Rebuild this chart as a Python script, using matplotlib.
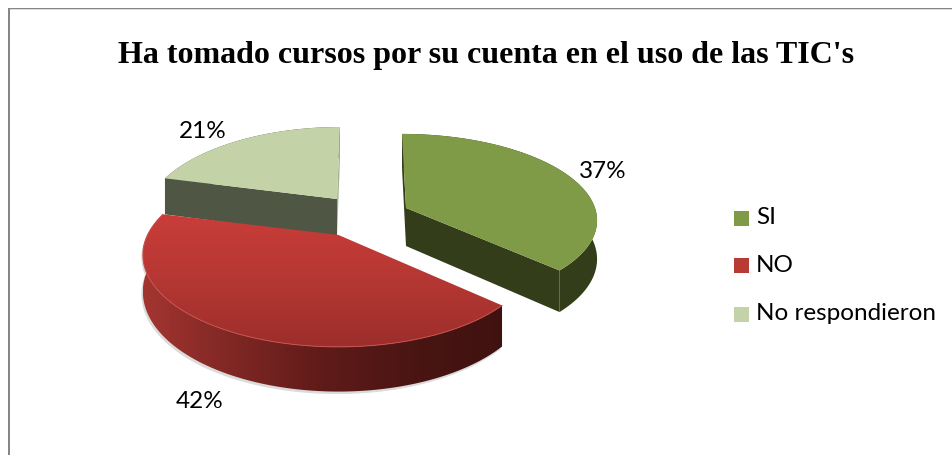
#!/usr/bin/env python3
# 3D-look exploded pie, built from polygons with a simple perspective projection.
import numpy as np
import matplotlib
matplotlib.use("Agg")
import matplotlib.pyplot as plt
from matplotlib.patches import Polygon, Rectangle
from matplotlib.colors import LinearSegmentedColormap

W, H = 952, 455

TITLE = "Ha tomado cursos por su cuenta en el uso de las TIC's"
labels = ["SI", "NO", "No respondieron"]
percents = [37, 42, 21]

# slice geometry in pixels, one entry per slice
APEX_X = [406, 338.5, 337]
APEX_Y = [208, 235, 199]
SKEW   = [4, 0, -3]
RX     = [189, 191, 188]
RY     = [83.4, 87.6, 87.6]
PERSP  = [0.126, 0.217, 0.217]
DEPTH  = [38, 35, 38]

TOP_COL  = ["#7f9b48", "#b93935", "#c3d3a7"]
WALL_COL = ["#333d1a", "#4a1512", "#505644"]
LABEL_POS = [(603, 172), (200, 401), (203, 131)]
LEGEND_Y  = [218, 265, 314]

def project(i, t, z=0.0):
    # t is clockwise from 12 o'clock, z is the drop towards the bottom face
    u, v = np.sin(t), -np.cos(t)
    d = 1 - PERSP[i]*v
    x = APEX_X[i] + u*RX[i]/d + SKEW[i]*v
    y = APEX_Y[i] + v*RY[i]/d + z/d
    return np.column_stack([x, y])

def apex(i, z=0.0):
    return np.array([[APEX_X[i], APEX_Y[i] + z]])

def cut_face(i, rim_top, rim_bot, color, zorder):
    pts = np.vstack([apex(i), rim_top, rim_bot, apex(i, DEPTH[i])])
    ax.add_patch(Polygon(pts, fc=color, ec="none", zorder=zorder))

def gradient_fill(poly, colors, horizontal, zorder):
    # paint a colour ramp clipped to the polygon
    xs, ys = poly[:, 0], poly[:, 1]
    cmap = LinearSegmentedColormap.from_list("ramp", colors)
    ramp = np.linspace(0, 1, 256)
    ramp = ramp[None, :] if horizontal else ramp[:, None]
    im = ax.imshow(ramp, cmap=cmap, aspect="auto", zorder=zorder,
                   extent=[xs.min(), xs.max(), ys.max(), ys.min()], interpolation="bilinear")
    clip = Polygon(poly, closed=True, transform=ax.transData, fc="none", ec="none")
    ax.add_patch(clip)
    im.set_clip_path(clip)

fig = plt.figure(figsize=(W/100, H/100), dpi=100, facecolor="white")
ax = fig.add_axes([0, 0, 1, 1])

# slice angles from the percentages
edges = np.radians(np.r_[0, np.cumsum(percents)] * 3.6)

# far slices first, the red one sits on top of the pale one
for i in [2, 0, 1]:
    t = np.linspace(edges[i], edges[i+1], 160)
    top = project(i, t)
    bot = project(i, t, DEPTH[i])
    z = 5 if i == 1 else 2

    # cut faces
    if i == 0:
        cut_face(i, top[:1], bot[:1], WALL_COL[i], z)
        cut_face(i, top[-1:], bot[-1:], WALL_COL[i], z)
    elif i == 2:
        cut_face(i, top[:1], bot[:1], WALL_COL[i], z)
        cut_face(i, top[-1:], bot[-1:], "#a3b090", z+0.2)

    # outer wall
    wall = np.vstack([top, bot[::-1]])
    if i == 1:
        ax.add_patch(Polygon(wall + [-1.5, 2.5], fc="#9a9a9a", ec="none", alpha=0.35, zorder=z-0.5))
        gradient_fill(wall, ["#a33530", "#7f2724", "#5f1b19", "#4a1513", "#3f1210"], True, z)
    else:
        ax.add_patch(Polygon(wall, fc=WALL_COL[i], ec="none", zorder=z))

    # top face
    face = np.vstack([apex(i), top])
    if i == 1:
        gradient_fill(face, ["#c93d39", "#b53733", "#9c2e2b"], False, z+0.5)
        ax.plot(top[:, 0], top[:, 1], color="#c8504c", lw=0.7, zorder=z+0.6)
    else:
        ax.add_patch(Polygon(face, fc=TOP_COL[i], ec="none", zorder=z+0.5))

# chart frame, only top and left show
ax.add_patch(Rectangle((8, 8), W, 1.3, fc="#868686", ec="none", zorder=8))
ax.add_patch(Rectangle((8, 9.3), W, 1, fc="#dcdcdc", ec="none", zorder=8))
ax.add_patch(Rectangle((8, 8), 1.6, H, fc="#868686", ec="none", zorder=8))

ax.text(486.5, 55, TITLE, ha="center", va="center", family="Liberation Serif",
        weight="bold", fontsize=23, color="black", zorder=10)

for pct, (x, y) in zip(percents, LABEL_POS):
    ax.text(x, y, f"{pct}%", ha="center", va="center", family="Lato",
            fontsize=17.5, color="black", zorder=10)

# legend keys and names
for i, (name, y) in enumerate(zip(labels, LEGEND_Y)):
    ax.add_patch(Rectangle((734, y-7.5), 15, 15, fc=TOP_COL[i], ec="none", zorder=10))
    ax.text(756, y, name, ha="left", va="center", family="Lato",
            fontsize=17.5, color="black", zorder=10)

ax.set_xlim(0, W)
ax.set_ylim(H, 0)
ax.axis("off")
fig.savefig("out.png", dpi=100, facecolor="white")
